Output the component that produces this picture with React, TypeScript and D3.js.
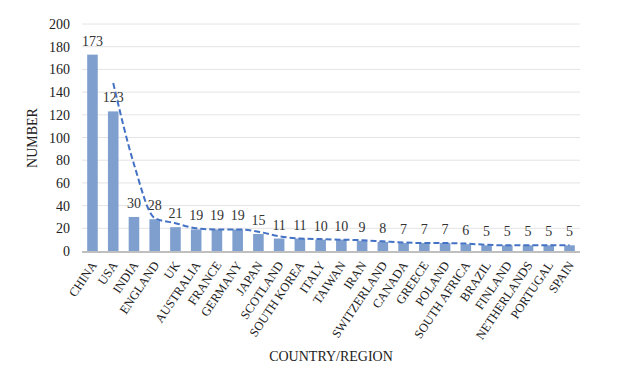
import * as d3 from 'd3'
import { useEffect, useRef } from 'react'

const countries = [
  'CHINA', 'USA', 'INDIA', 'ENGLAND', 'UK', 'AUSTRALIA', 'FRANCE', 'GERMANY',
  'JAPAN', 'SCOTLAND', 'SOUTH KOREA', 'ITALY', 'TAIWAN', 'IRAN', 'SWITZERLAND',
  'CANADA', 'GREECE', 'POLAND', 'SOUTH AFRICA', 'BRAZIL', 'FINLAND',
  'NETHERLANDS', 'PORTUGAL', 'SPAIN',
]
const counts = [173, 123, 30, 28, 21, 19, 19, 19, 15, 11, 11, 10, 10, 9, 8, 7, 7, 7, 6, 5, 5, 5, 5, 5]
// dashed trend line (2-period moving average), starts at the 2nd category
const trend = [148, 76.5, 29, 24.5, 20, 19, 19, 17, 13, 11, 10.5, 10, 9.5, 8.5, 7.5, 7, 7, 6.5, 5.5, 5, 5, 5, 5]
const yTicks = [0, 20, 40, 60, 80, 100, 120, 140, 160, 180, 200]

const App = () => {
  const svgRef = useRef<SVGSVGElement>(null)

  useEffect(() => {
    const svg = d3.select(svgRef.current)
    svg.selectAll('*').remove()

    const left = 82
    const right = 580
    const top = 24
    const bottom = 251
    const font = '"Liberation Serif", "Times New Roman", serif'

    const x = d3.scaleBand().domain(countries).range([left, right]).paddingInner(0.49).paddingOuter(0.25)
    const y = d3.scaleLinear().domain([0, 200]).range([bottom, top])

    // grid
    svg
      .selectAll('.grid')
      .data(yTicks.filter((d) => d > 0))
      .enter()
      .append('line')
      .attr('x1', left)
      .attr('x2', right)
      .attr('y1', (d) => y(d))
      .attr('y2', (d) => y(d))
      .attr('stroke', '#e4e4e4')
      .attr('stroke-width', 1)

    // y tick labels
    svg
      .selectAll('.ytick')
      .data(yTicks)
      .enter()
      .append('text')
      .attr('x', 70)
      .attr('y', (d) => y(d) + 5)
      .attr('text-anchor', 'end')
      .style('font-family', font)
      .style('font-size', '14px')
      .style('fill', '#222')
      .text((d) => d)

    // bars
    svg
      .selectAll('.bar')
      .data(counts)
      .enter()
      .append('rect')
      .attr('x', (d, i) => x(countries[i]))
      .attr('y', (d) => y(d))
      .attr('width', x.bandwidth())
      .attr('height', (d) => bottom - y(d))
      .attr('fill', '#7f9fcf')

    // value labels
    svg
      .selectAll('.val')
      .data(counts)
      .enter()
      .append('text')
      .attr('x', (d, i) => x(countries[i]) + x.bandwidth() / 2)
      .attr('y', (d) => y(d) - 9)
      .attr('text-anchor', 'middle')
      .style('font-family', font)
      .style('font-size', '14px')
      .style('fill', '#333')
      .text((d) => d)

    // axis line
    svg
      .append('line')
      .attr('x1', left)
      .attr('x2', right)
      .attr('y1', bottom + 1)
      .attr('y2', bottom + 1)
      .attr('stroke', '#bfbfbf')
      .attr('stroke-width', 2)

    // trend line
    const line = d3
      .line<number>()
      .x((d, i) => x(countries[i + 1]) + x.bandwidth() / 2)
      .y((d) => y(d))
      .curve(d3.curveMonotoneX)
    svg
      .append('path')
      .attr('d', line(trend))
      .attr('fill', 'none')
      .attr('stroke', '#4472c4')
      .attr('stroke-width', 2)
      .attr('stroke-dasharray', '6,3')

    // category labels
    svg
      .selectAll('.xlab')
      .data(countries)
      .enter()
      .append('text')
      .attr('transform', (d) => `translate(${x(d) + x.bandwidth() / 2 + 5},${bottom + 14}) rotate(-56)`)
      .attr('text-anchor', 'end')
      .style('font-family', font)
      .style('font-size', '12.5px')
      .style('fill', '#222')
      .text((d) => d)

    // axis titles
    svg
      .append('text')
      .attr('transform', `translate(37,138) rotate(-90)`)
      .attr('text-anchor', 'middle')
      .style('font-family', font)
      .style('font-size', '14px')
      .style('fill', '#222')
      .text('NUMBER')

    svg
      .append('text')
      .attr('x', 331)
      .attr('y', 361)
      .attr('text-anchor', 'middle')
      .style('font-family', font)
      .style('font-size', '14px')
      .style('fill', '#222')
      .text('COUNTRY/REGION')
  }, [])

  return (
    <svg
      ref={svgRef}
      width={620}
      height={375}
      style={{ position: 'absolute', left: 0, top: 0, background: '#fff' }}
    />
  )
}

export default App
